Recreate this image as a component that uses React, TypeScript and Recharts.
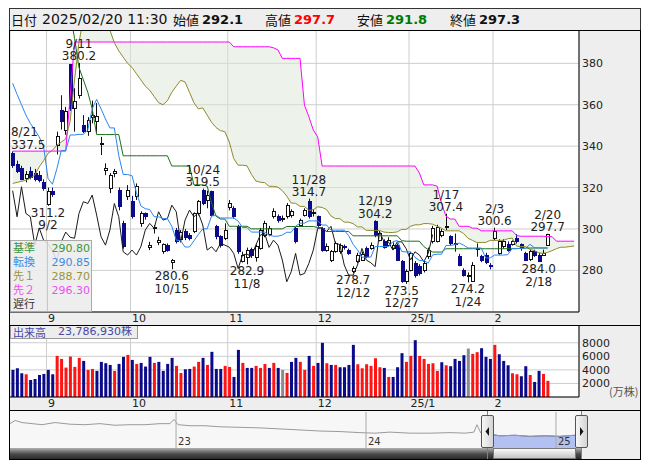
import React from "react";
import {
  ComposedChart,
  Bar,
  Line,
  Area,
  XAxis,
  YAxis,
  CartesianGrid,
  Cell,
  ReferenceLine,
} from "recharts";

// daily candles, 2024/08/21 .. 2025/02/20 (index 0..121)
const opens = [
  336.5, 331, 329, 324.5, 328, 327, 326, 322.5, 312, 318,
  340.5, 357.4, 347.8, 379.2, 358.3, 364.7, 350.2, 347, 354, 351.8,
  341, 328.4, 319.6, 326.9, 318.5, 302.7, 315.6, 313.2, 315.6, 302.7,
  307.5, 291.1, 300, 293.3, 289, 292.2, 283.7, 299.5, 295, 299,
  297, 298.7, 307.5, 318.8, 313.9, 318, 301, 296.2, 295.4, 310.4,
  309.9, 301, 284.2, 286.3, 290.1, 286.3, 290.6, 297, 297.5, 305.9,
  305.9, 305, 305.9, 306.7, 300.3, 301.9, 306.7, 313.2, 307.5, 305.9,
  300.3, 289.8, 284.9, 289, 289, 291.4, 289.8, 279.3, 284.2, 285,
  290.6, 290.6, 303.5, 294.6, 293.8, 292.2, 290.6, 292.2, 284.2, 274.5,
  280.1, 283.4, 281.8, 280.1, 286.6, 293.8, 294, 297, 301, 296.2,
  293, 286.9, 280.1, 277.7, 274.5, 290.3, 286.6, 287.4, 282.6, 295.4,
  288.2, 291.4, 292.7, 292.7, 295.4, 292.5, 288.2, 285.3, 289, 287.4,
  287.4, 292.1,
];
const highs = [
  337.5, 333, 330.5, 328, 330, 329, 328, 324, 320, 320,
  347, 364.6, 359, 379.5, 368, 380.2, 355, 354, 362, 360.8,
  344.5, 331.7, 327, 329, 320, 304, 321.2, 316, 322, 308.5,
  308, 293.8, 301.9, 296.2, 293, 293, 285.5, 300.5, 299.5, 300,
  298, 308, 314, 319.5, 318.5, 318.5, 302, 297, 302.7, 314,
  311, 302, 289, 291, 291, 292.5, 300.5, 304, 301.5, 310,
  307, 306.5, 312.5, 309.5, 301, 305, 310, 314.7, 309.5, 306.5,
  301, 293, 289.8, 294, 293, 292.5, 290.5, 282, 288.5, 289,
  291.5, 293.5, 304.2, 299, 295, 296, 293.5, 293, 285, 280.5,
  289, 284.5, 283, 284.5, 291, 301.5, 302, 300, 307.4, 297,
  297.8, 288, 281, 279, 284, 293, 287.5, 288.5, 283.5, 300.6,
  295, 295, 294, 294.5, 297.5, 293, 289, 290, 290, 288.5,
  290, 297.7,
];
const lows = [
  329.5, 327, 323.5, 322.5, 324, 323, 322.5, 318.5, 311.2, 315.5,
  336, 348, 345.5, 357, 347, 363, 346.3, 345, 351, 346.3,
  335.7, 326, 317.3, 325, 309, 290.5, 314, 305, 314, 301,
  304.5, 289.8, 297.8, 292.2, 288, 289, 280.6, 293, 293.5, 294.6,
  294.5, 298, 306.5, 311.5, 310, 306, 295, 291, 294.6, 309,
  305, 288, 283.8, 282.9, 286, 284.2, 290, 296, 296.5, 305,
  303, 303.5, 305, 305.5, 293, 301, 306, 305, 306, 301,
  289, 289, 284, 288.5, 288, 290, 287.5, 278.7, 283.5, 284.5,
  286, 290, 296, 294, 290.5, 291.5, 290, 284.5, 274, 273.5,
  279.5, 276.5, 277.5, 279, 285.5, 293, 293.5, 296, 299.5, 292,
  289, 282, 277, 274.2, 274.5, 286.6, 284, 283, 280.5, 294.5,
  287.5, 290.5, 289, 292, 293, 289.5, 284.5, 284.5, 286.5, 284,
  287, 291.8,
];
const closes = [
  330.5, 328, 324, 326.5, 325, 324, 323.5, 319.5, 318, 316.5,
  344.5, 351.8, 356.6, 358.3, 361.4, 372.8, 347, 352.6, 355, 354.5,
  341.3, 329.2, 326, 327.6, 311, 291.4, 318.5, 305.9, 320.4, 307.5,
  305.9, 292.2, 300.5, 294.6, 292.7, 289.5, 284.6, 293.8, 298.5, 296,
  295.5, 307.5, 313.2, 312.3, 316.4, 306.7, 296.2, 292.2, 299.5, 312.3,
  305.9, 289, 287.4, 289.8, 287.4, 291.4, 299.5, 302.7, 300.3, 308.3,
  304.3, 305, 311.5, 308.3, 293.8, 304.3, 309.1, 305.9, 307.8, 301.9,
  289.8, 291.4, 289, 293, 292.2, 291.2, 288.2, 280.9, 287.4, 287.9,
  286.6, 292.2, 297, 297.8, 291.1, 294.6, 292.2, 285, 274.5, 279.3,
  288.2, 277.7, 278.5, 283.4, 289.8, 300.3, 300.5, 298.7, 301.3, 293,
  292.5, 282.6, 277.7, 277.7, 282.6, 290.6, 285, 283.7, 281.8, 298.7,
  293.8, 293.8, 289.8, 293.8, 293.8, 290.5, 285, 289, 287.4, 284.2,
  288.2, 297.3,
];

// volume in 万株, colour by change from previous close
const volumes = [
  4000, 4240, 3500, 3350, 2510, 2660, 3250, 3400, 4000, 3350,
  6060, 5620, 4340, 5970, 4440, 5770, 5320, 4000, 4140, 3850,
  5180, 4980, 4730, 3850, 4880, 5920, 6210, 5470, 4880, 5030,
  4490, 5920, 5030, 5180, 3850, 4880, 5770, 4590, 3550, 4090,
  4140, 4490, 5180, 5770, 4730, 6660, 4140, 4140, 4590, 4440,
  2960, 6950, 5030, 4290, 4290, 4590, 4290, 4880, 4290, 5030,
  4290, 4000, 3550, 5180, 5770, 5180, 4000, 6060, 4590, 5030,
  7990, 4980, 4730, 4730, 4390, 4390, 4730, 7690, 4830, 4240,
  4830, 4590, 5720, 4390, 4290, 2960, 2960, 4390, 6460, 5180,
  6060, 8380, 6060, 5620, 4880, 4980, 3850, 5130, 4680, 4540,
  5620, 5320, 6160, 7150, 6360, 6610, 7200, 5920, 5620, 7690,
  6310, 5320, 4680, 3500, 3350, 3060, 4540, 3250, 2220, 3850,
  3400, 2379,
];
const volumeDir = [
  "b", "b", "b", "r", "b", "b", "b", "b", "b", "b",
  "r", "r", "r", "r", "r", "r", "b", "r", "r", "b",
  "b", "b", "b", "r", "b", "b", "r", "b", "r", "b",
  "b", "b", "r", "b", "b", "b", "b", "r", "r", "b",
  "b", "r", "r", "b", "r", "b", "b", "b", "r", "r",
  "b", "b", "r", "b", "b", "r", "r", "r", "b", "r",
  "b", "g", "r", "b", "b", "r", "r", "b", "r", "b",
  "b", "r", "b", "r", "b", "b", "b", "b", "r", "r",
  "r", "r", "r", "r", "b", "r", "b", "b", "b", "r",
  "r", "b", "r", "r", "r", "r", "r", "b", "r", "b",
  "b", "b", "b", "g", "r", "r", "b", "b", "b", "r",
  "b", "b", "b", "r", "r", "b", "b", "r", "b", "b",
  "r", "r",
];

// ichimoku lines
const tenkan = [
  370.4, 365, 360, 355, 351, 347.8, 344.5, 339.7, 324.4, 321.6,
  329.1, 337.9, 337.9, 345.4, 345.4, 345.7, 345.7, 347.9, 358.1, 362.6,
  358, 353.1, 348.8, 348.8, 335.5, 326.3, 326.3, 325.7, 317.5, 311.1,
  309.8, 309.4, 305.9, 305.9, 305, 305, 301.3, 294.6, 294.3, 291.3,
  291.3, 294.3, 297.3, 300.1, 300.1, 306.3, 306.5, 305.3, 305.3, 305.3,
  305.3, 303.8, 300.7, 300.7, 298.5, 298.5, 298.5, 298.5, 297, 296.5,
  296.5, 297.1, 298.4, 298.4, 301.3, 302.8, 302.8, 303.9, 303.9, 303.9,
  301.9, 301.9, 299.4, 299.4, 299.4, 299.4, 296.8, 292.6, 289.9, 286.4,
  286.4, 286.4, 291.5, 291.5, 291.5, 291.5, 293.9, 294.4, 289.1, 288.9,
  288.9, 286.3, 284.8, 284.8, 283.5, 287.5, 287.8, 287.8, 292, 292,
  292.5, 293.2, 292.2, 290.8, 290.8, 290.8, 290.8, 286, 286, 287.4,
  287.4, 287.4, 287.6, 290.6, 290.6, 290.6, 290.6, 292.6, 291, 290.85,
  290.85, 290.85,
];
const kijunStart = 13;
const kijun = [
  405, 392, 378, 372, 366, 358, 345.6, 345.6, 345.6, 345.6,
  345.6, 345.6, 335.35, 335.35, 335.35, 335.35, 335.35, 335.35, 335.35, 335.35,
  335.35, 335.35, 335.35, 330.4, 330.4, 330.4, 330.4, 330.4, 321.3, 321.3,
  321.3, 320.7, 312.55, 306.15, 304.8, 304.8, 301.3, 301.3, 301.3, 301.3,
  301.3, 300.05, 300.05, 300.05, 300.05, 300.05, 300.05, 300.05, 300.05, 301.2,
  301.2, 301.2, 301.2, 301.2, 301.2, 301.2, 300.7, 300.7, 298.8, 298.8,
  298.8, 298.8, 298.8, 298.8, 296.7, 296.7, 296.7, 296.7, 296.7, 296.7,
  296.7, 296.7, 296.7, 296.7, 296.7, 294.35, 294.1, 294.1, 294.1, 294.1,
  291.5, 290, 288.85, 288.85, 288.85, 290.45, 290.45, 290.45, 290.45, 290.45,
  290.45, 290.45, 290.45, 290.45, 290.45, 290.45, 290.45, 290.45, 290.45, 290.45,
  290.45, 290.45, 290.8, 290.8, 290.8, 290.8, 290.8, 290.8, 290.8,
];
const span1 = [
  322, 322.5, 323, 323.5, 324.5, 326, 330, 333, 336.5, 338,
  340.5, 342, 343.5, 352, 372, 390, 402, 402, 402, 402,
  402, 402, 396, 390, 386, 383, 380, 378, 375, 372,
  369, 367, 364, 361, 360, 362, 366, 369, 371.8, 371,
  366, 361, 358, 358.5, 355, 351.5, 349, 347.5, 347, 342,
  334, 330.8, 330.8, 330.5, 326.4, 323.2, 322.6, 322.4, 320.6, 320.6,
  320.2, 318.5, 315.9, 312.5, 312.4, 310.9, 310.9, 309, 309.3, 310.7,
  310.4, 309.4, 306.3, 305, 305, 303.3, 303.3, 302.6, 301, 301,
  299.3, 299.3, 299.3, 299.3, 298.5, 298.3, 298.3, 298.6, 299.8, 299.8,
  301.3, 302, 302, 302.6, 302.6, 302.3, 301.3, 300.4, 299.1, 299.1,
  299.1, 299.1, 297.8, 295.5, 294.5, 293.5, 293.5, 293.5, 294.5, 294.5,
  294.5, 294.5, 295.3, 295.6, 291.7, 291.5, 291.5, 290.2, 289.5, 288.5,
  288.2, 288.7, 289.5, 290.5, 291.2, 291.2, 291.5, 291.8,
];
const span2 = [
  337.6, 337.6, 337.6, 337.6, 337.6, 337.6, 337.6, 337.6, 337.6, 337.6,
  337.6, 337.6, 337.6, 364, 390.3, 390.3, 390.3, 390.3, 390.3, 390.3,
  390.3, 390.3, 390.3, 390.3, 390.3, 390.3, 390.3, 390.3, 390.3, 390.3,
  390.3, 390.3, 390.3, 390.3, 390.3, 390.3, 390.3, 390.3, 390.3, 390.3,
  390.3, 390.3, 390.3, 390.3, 390.3, 390.3, 390.3, 390.3, 390.3, 390.3,
  388, 388, 388, 388, 388, 388, 388, 388, 388, 387.5,
  386.5, 382.4, 382.4, 382.4, 382.4, 382.4, 359.8, 354.2, 347.8, 344.5,
  330.4, 330.4, 330.4, 330.4, 330.4, 330.4, 330.4, 330.4, 330.4, 330.4,
  330.4, 330.4, 330.4, 330.4, 330.4, 330.4, 330.4, 330.4, 330.4, 330.4,
  330.4, 330.4, 327, 321.3, 321.3, 321.3, 320.7, 312.5, 306.2, 304.8,
  304.8, 301.3, 301.3, 301.3, 300.4, 300.4, 299.1, 299.1, 299.1, 299.1,
  299.1, 299.1, 299.1, 299.1, 296.8, 296.5, 296.5, 296.5, 296.5, 296.5,
  296.5, 296.3, 296.3, 294.1, 294.1, 294.1, 294.1, 294.1,
];
const chikou = [
  318.5, 305.9, 320.4, 307.5, 305.9, 292.2, 300.5, 294.6, 292.7, 289.5,
  284.6, 293.8, 298.5, 296, 295.5, 307.5, 313.2, 312.3, 316.4, 306.7,
  296.2, 292.2, 299.5, 312.3, 305.9, 289, 287.4, 289.8, 287.4, 291.4,
  299.5, 302.7, 300.3, 308.3, 304.3, 305, 311.5, 308.3, 293.8, 304.3,
  309.1, 305.9, 307.8, 301.9, 289.8, 291.4, 289, 293, 292.2, 291.2,
  288.2, 280.9, 287.4, 287.9, 286.6, 292.2, 297, 297.8, 291.1, 294.6,
  292.2, 285, 274.5, 279.3, 288.2, 277.7, 278.5, 283.4, 289.8, 300.3,
  300.5, 298.7, 301.3, 293, 292.5, 282.6, 277.7, 277.7, 282.6, 290.6,
  285, 283.7, 281.8, 298.7, 293.8, 293.8, 289.8, 293.8, 293.8, 290.5,
  285, 289, 287.4, 284.2, 288.2, 297.3,
];

// month boundaries (index of first trading day)
const monthStarts = [8, 27, 49, 69, 90, 109];
const monthLabels = ["9", "10", "11", "12", "25/1", "2"];
const priceTicks = [280, 300, 320, 340, 360, 380];
const volumeTicks = [2000, 4000, 6000, 8000];

// high / low annotations
const markIndex = [0, 8, 15, 36, 43, 53, 67, 77, 82, 88, 98, 103, 109, 119, 121];
const markDate = ["8/21", "9/2", "9/11", "10/15", "10/24", "11/8", "11/28", "12/12", "12/19", "12/27", "1/17", "1/24", "2/3", "2/18", "2/20"];
const markPrice = [337.5, 311.2, 380.2, 280.6, 319.5, 282.9, 314.7, 278.7, 304.2, 273.5, 307.4, 274.2, 300.6, 284.0, 297.7];
const markSide = ["h", "l", "h", "l", "h", "l", "h", "l", "h", "l", "h", "l", "h", "l", "h"];

const legendNames = ["基準", "転換", "先１", "先２", "遅行"];
const legendValues = ["290.80", "290.85", "288.70", "296.30", ""];
const legendColors = ["#3c963c", "#3c8ce6", "#9a9436", "#ee50ee", "#333333"];

// navigator (long-term history)
const navYear = [
  2022.126, 2022.153, 2022.189, 2022.242, 2022.295, 2022.363, 2022.442, 2022.521, 2022.6, 2022.679,
  2022.758, 2022.837, 2022.916, 2022.968, 2022.989, 2023.011, 2023.074, 2023.153, 2023.232, 2023.337,
  2023.442, 2023.547, 2023.653, 2023.758, 2023.863, 2023.968, 2024.047, 2024.126, 2024.232, 2024.337,
  2024.442, 2024.521, 2024.568, 2024.584, 2024.605, 2024.653, 2024.705, 2024.784, 2024.863, 2024.942,
  2025.021, 2025.1, 2025.137,
];
const navPrice = [
  592, 662, 616, 592, 569, 616, 580, 569, 592, 557,
  569, 569, 592, 592, 685, 569, 546, 546, 523, 511,
  499, 476, 453, 430, 418, 395, 383, 406, 383, 383,
  395, 383, 406, 569, 383, 360, 325, 337, 313, 325,
  313, 337, 337,
];
const navYearTicks = [2023, 2024, 2025];
const navYearLabels = ["23", "24", "25"];
const selectionStart = 2024.64;

const FONT = "'DejaVu Sans', 'Noto Sans CJK JP', sans-serif";
const JP = "'Noto Sans CJK JP', sans-serif";
const X_DOMAIN: [number, number] = [-0.6, 128.1];
const gridTicks = monthStarts.map((m) => m - 0.35);

const rows = span1.map((s1, i) => {
  const has = i < closes.length;
  const m = markIndex.indexOf(i);
  return {
    i,
    range: has ? [lows[i], highs[i]] : null,
    o: has ? opens[i] : null,
    h: has ? highs[i] : null,
    l: has ? lows[i] : null,
    c: has ? closes[i] : null,
    vol: has ? volumes[i] : null,
    dir: has ? volumeDir[i] : "b",
    tenkan: has ? tenkan[i] : null,
    kijun: has && i >= kijunStart ? kijun[i - kijunStart] : null,
    chikou: i < chikou.length ? chikou[i] : null,
    span1: s1,
    span2: span2[i],
    cloud: [s1, span2[i]],
    markP: m >= 0 ? markPrice[m] : null,
    markDate: m >= 0 ? markDate[m] : null,
    markSide: m >= 0 ? markSide[m] : null,
  };
});

const navRows = navYear.map((t, k) => ({
  t,
  p: navPrice[k],
  sel: t >= selectionStart ? navPrice[k] : null,
}));

const textWidth = (s: string) =>
  s.split("").reduce((w, ch) => w + (ch === "/" ? 4.1 : ch === "." ? 3.8 : 7.6), 0);

const renderCandle = (props: any) => {
  const { x, y, width, height, payload } = props;
  if (!payload || payload.o == null || height == null) return <g />;
  const top = Math.min(y, y + height);
  const span = Math.abs(height);
  const k = span / (payload.h - payload.l);
  const py = (v: number) => top + (payload.h - v) * k;
  const cx = Math.round(x + width / 2) + 0.5;
  const up = payload.c >= payload.o;
  const bTop = py(Math.max(payload.o, payload.c));
  const bBot = py(Math.min(payload.o, payload.c));
  const col = up ? "#111111" : "#0a0a8a";
  return (
    <g>
      <line x1={cx} x2={cx} y1={top} y2={top + span} stroke={col} strokeWidth={1} />
      <rect
        x={cx - 1.5}
        y={bTop}
        width={3}
        height={Math.max(bBot - bTop, 1)}
        fill={up ? "#ffffff" : "#0a0a8a"}
        stroke={col}
        strokeWidth={1}
        shapeRendering="crispEdges"
      />
    </g>
  );
};

const renderMark = (props: any) => {
  const { cx, cy, payload, index } = props;
  if (!payload || payload.markP == null || cy == null) return <g key={`mk${index}`} />;
  const value = payload.markP.toFixed(1);
  const high = payload.markSide === "h";
  const lines = high ? [payload.markDate, value] : [value, payload.markDate];
  const base = high ? cy - 15 : cy + 11;
  return (
    <g key={`mk${index}`}>
      {lines.map((t: string, k: number) => {
        const w = textWidth(t);
        const x = Math.min(Math.max(cx, w / 2 + 1), 568 - w / 2);
        return (
          <text key={k} x={x} y={base + k * 12.5} textAnchor="middle" fontSize={12} fontFamily={FONT} fill="#222">
            {t}
          </text>
        );
      })}
    </g>
  );
};

const renderMonthTick = (props: any) => {
  const { x, y, index } = props;
  return (
    <text key={`t${index}`} x={x + 1.5} y={y + 9.5} fontSize={11} fontFamily={FONT} fill="#222" textAnchor="start">
      {monthLabels[index] ?? ""}
    </text>
  );
};

const renderRightTick = (props: any) => {
  const { x, y, payload, index } = props;
  return (
    <text key={`r${index}`} x={x + 3} y={y + 4} fontSize={11} fontFamily={FONT} fill="#222" textAnchor="start">
      {payload.value}
    </text>
  );
};

const abs = (left: number, top: number, width: number, height: number, extra: any = {}) => ({
  position: "absolute" as const,
  left,
  top,
  width,
  height,
  boxSizing: "border-box" as const,
  ...extra,
});

const Handle = ({ left, dir }: { left: number; dir: "l" | "r" }) => (
  <div
    style={abs(left, 415, 13, 33, {
      background: "linear-gradient(to right, #f6f6f6, #d4d4d4)",
      border: "1px solid #555",
      borderRadius: 2,
    })}
  >
    <svg width={11} height={31} style={{ position: "absolute", left: 0, top: 0 }}>
      {dir === "l" ? <polygon points="7,11 7,20 3.5,15.5" fill="#111" /> : <polygon points="4,11 4,20 7.5,15.5" fill="#111" />}
    </svg>
  </div>
);

export default function App() {
  const hdr = (left: number, text: string, extra: any = {}) => (
    <span style={{ position: "absolute", left, top: 9, lineHeight: "21px", fontSize: 14, whiteSpace: "nowrap", color: "#111", ...extra }}>
      {text}
    </span>
  );
  return (
    <div style={{ position: "absolute", left: 0, top: 0, width: 653, height: 470, fontFamily: FONT }}>
      {/* header */}
      <div style={abs(9, 8, 632, 23, { border: "1px solid #333", background: "#eeeeee" })} />
      {hdr(11, "日付", { fontFamily: JP, fontSize: 13 })}
      {hdr(42, "2025/02/20 11:30")}
      {hdr(173, "始値", { fontFamily: JP, fontSize: 13 })}
      {hdr(202, "292.1", { fontWeight: "bold", fontSize: 13 })}
      {hdr(265, "高値", { fontFamily: JP, fontSize: 13 })}
      {hdr(294, "297.7", { fontWeight: "bold", fontSize: 13, color: "#ff0000" })}
      {hdr(357, "安値", { fontFamily: JP, fontSize: 13 })}
      {hdr(386, "291.8", { fontWeight: "bold", fontSize: 13, color: "#007a00" })}
      {hdr(450, "終値", { fontFamily: JP, fontSize: 13 })}
      {hdr(479, "297.3", { fontWeight: "bold", fontSize: 13 })}

      {/* panel backgrounds */}
      <div style={abs(10, 30, 569, 282, { background: "#ffffff" })} />
      <div style={abs(579, 30, 61, 282, { background: "#eeeeee" })} />
      <div style={abs(10, 312, 630, 13, { background: "#eeeeee" })} />
      <div style={abs(10, 325, 569, 72, { background: "#ffffff" })} />
      <div style={abs(579, 325, 61, 72, { background: "#eeeeee" })} />
      <div style={abs(10, 397, 630, 13, { background: "#eeeeee" })} />
      <div style={abs(10, 411, 572, 37, { background: "#f7f7f7" })} />
      <div style={abs(582, 411, 58, 48, { background: "#eeeeee" })} />

      {/* price chart */}
      <div style={{ position: "absolute", left: 10, top: 30 }}>
        <ComposedChart width={630} height={295} data={rows} margin={{ top: 0, right: 0, bottom: 0, left: 0 }}>
          <CartesianGrid stroke="#cdcdcd" />
          <XAxis
            type="number"
            dataKey="i"
            domain={X_DOMAIN}
            allowDataOverflow
            ticks={gridTicks}
            interval={0}
            height={13}
            tickLine={false}
            tickSize={0}
            tickMargin={0}
            axisLine={{ stroke: "#000" }}
            tick={renderMonthTick}
          />
          <YAxis
            orientation="right"
            width={61}
            domain={[259.9, 396.1]}
            allowDataOverflow
            ticks={priceTicks}
            interval={0}
            tickLine={false}
            tickSize={0}
            tickMargin={0}
            axisLine={{ stroke: "#000" }}
            tick={renderRightTick}
          />
          <Area dataKey="cloud" stroke="none" fill="#dce8d6" fillOpacity={0.5} isAnimationActive={false} />
          <Line dataKey="chikou" stroke="#1a1a1a" strokeWidth={1} dot={false} isAnimationActive={false} />
          <Bar dataKey="range" barSize={4} shape={renderCandle} isAnimationActive={false} />
          <Line dataKey="span1" stroke="#8c8a2c" strokeWidth={1} dot={false} isAnimationActive={false} />
          <Line dataKey="span2" stroke="#ff00ff" strokeWidth={1} dot={false} isAnimationActive={false} />
          <Line dataKey="kijun" stroke="#1d6e1d" strokeWidth={1} dot={false} isAnimationActive={false} />
          <Line dataKey="tenkan" stroke="#2a86f0" strokeWidth={1} dot={false} isAnimationActive={false} />
          <Line dataKey="markP" stroke="none" dot={renderMark} activeDot={false} isAnimationActive={false} />
        </ComposedChart>
      </div>

      {/* ichimoku legend */}
      <div style={abs(10, 240, 82, 72, { background: "rgba(236,236,236,0.88)", border: "1px solid #aaaaaa" })}>
        <div style={abs(36, 0, 1, 70, { background: "#c8c8c8" })} />
        {legendNames.map((n, k) => (
          <div key={n} style={abs(1, 1 + k * 14, 78, 14, { fontSize: 11, lineHeight: "14px", color: legendColors[k] })}>
            <span style={{ position: "absolute", left: 1, top: 0, width: 32, height: 14, overflow: "hidden" }}>{n}</span>
            <span style={{ position: "absolute", left: 36, top: 0, width: 42, height: 14, textAlign: "right" }}>{legendValues[k]}</span>
          </div>
        ))}
      </div>

      {/* volume chart */}
      <div style={{ position: "absolute", left: 10, top: 325 }}>
        <ComposedChart width={630} height={85} data={rows} margin={{ top: 0, right: 0, bottom: 0, left: 0 }}>
          <CartesianGrid stroke="#cdcdcd" />
          <XAxis
            type="number"
            dataKey="i"
            domain={X_DOMAIN}
            allowDataOverflow
            ticks={gridTicks}
            interval={0}
            height={13}
            tickLine={false}
            tickSize={0}
            tickMargin={0}
            axisLine={{ stroke: "#000" }}
            tick={renderMonthTick}
          />
          <YAxis
            orientation="right"
            width={61}
            domain={[0, 10620]}
            allowDataOverflow
            ticks={volumeTicks}
            interval={0}
            tickLine={false}
            tickSize={0}
            tickMargin={0}
            axisLine={{ stroke: "#000" }}
            tick={renderRightTick}
          />
          <Bar dataKey="vol" barSize={3} isAnimationActive={false}>
            {rows.map((r) => (
              <Cell key={r.i} fill={r.dir === "r" ? "#ff1414" : r.dir === "g" ? "#8c8c8c" : "#0a0a8a"} />
            ))}
          </Bar>
        </ComposedChart>
      </div>
      <div style={{ position: "absolute", left: 609, top: 385, fontSize: 11, color: "#555", fontFamily: JP, lineHeight: "12px" }}>(万株)</div>
      <div style={abs(10, 325, 128, 14, { background: "#ededed", border: "1px solid #9a9a9a", color: "#4848a8", fontSize: 11, lineHeight: "12px" })}>
        <span style={{ position: "absolute", left: 2, fontFamily: JP }}>出来高</span>
        <span style={{ position: "absolute", left: 47 }}>23,786,930株</span>
      </div>

      {/* navigator */}
      <div style={{ position: "absolute", left: 10, top: 412 }}>
        <ComposedChart width={572} height={36} data={navRows} margin={{ top: 0, right: 0, bottom: 0, left: 0 }}>
          <XAxis type="number" dataKey="t" domain={[2022.126, 2025.137]} allowDataOverflow hide />
          <YAxis domain={[57, 848]} allowDataOverflow hide />
          <Area dataKey="sel" stroke="#5868d8" fill="#b2c0f2" fillOpacity={1} isAnimationActive={false} />
          <Line dataKey="p" stroke="#9a9a9a" strokeWidth={1} dot={false} isAnimationActive={false} />
          {navYearTicks.map((t, k) => (
            <ReferenceLine
              key={t}
              x={t}
              stroke="#aaaaaa"
              segment={[{ x: t, y: 330 }, { x: t, y: 180 }]}
              label={(p: any) => (
                <text x={(p.viewBox?.x ?? 0) + 2} y={33} fontSize={10} fontFamily={FONT} fill="#333">
                  {navYearLabels[k]}
                </text>
              )}
            />
          ))}
        </ComposedChart>
      </div>
      <div style={abs(10, 448, 572, 11, { background: "linear-gradient(to bottom, #b0b0b0, #4a4a4a 55%, #2a2a2a)" })} />
      <div style={abs(493, 448, 83, 11, { background: "linear-gradient(to bottom, #fafafa, #c4c4c4)", border: "1px solid #777" })} />
      <div style={abs(487, 411, 1, 48, { background: "#3399dd" })} />
      <div style={abs(581, 411, 1, 48, { background: "#3399dd" })} />
      <Handle left={481} dir="l" />
      <Handle left={575} dir="r" />

      {/* frame lines */}
      <div style={abs(9, 325, 632, 1, { background: "#000" })} />
      <div style={abs(9, 410, 632, 1, { background: "#000" })} />
      <div style={abs(9, 30, 632, 430, { border: "1px solid #000" })} />
    </div>
  );
}
